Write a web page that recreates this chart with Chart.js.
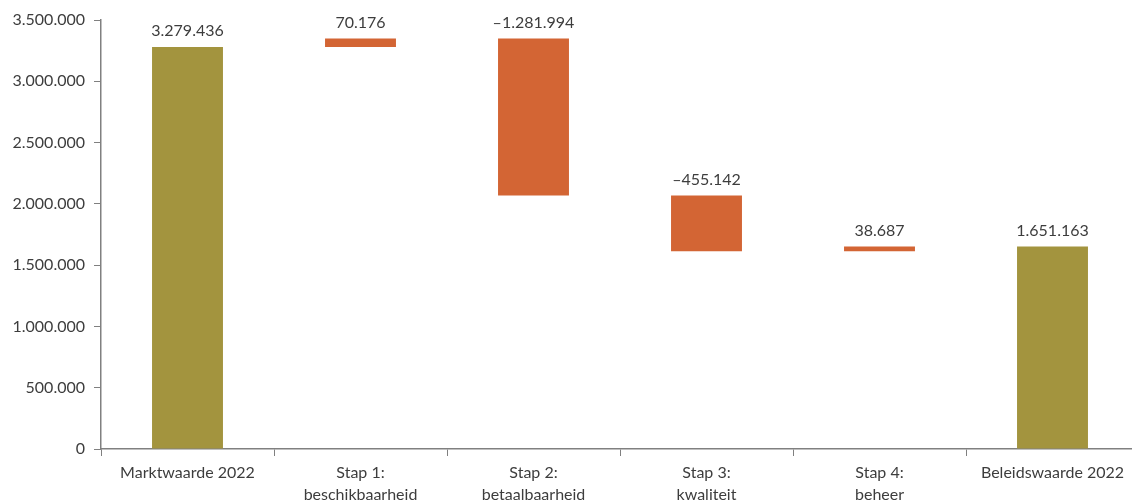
<!DOCTYPE html>
<html>
<head>
<meta charset="utf-8">
<script src="https://cdn.jsdelivr.net/npm/chart.js@4"></script>
<style>
html, body { margin: 0; padding: 0; overflow: hidden; background: #fff; }
#wrap { width: 1139px; height: 501px; position: relative; }
</style>
</head>
<body>
<div id="wrap"><canvas id="myChart"></canvas></div>
<script>
const categories = [
    ['Marktwaarde 2022'],
    ['Stap 1:', 'beschikbaarheid'],
    ['Stap 2:', 'betaalbaarheid'],
    ['Stap 3:', 'kwaliteit'],
    ['Stap 4:', 'beheer'],
    ['Beleidswaarde 2022']
];
const changes = [3279436, 70176, -1281994, -455142, 38687, 1651163];
const isTotal = [true, false, false, false, false, true];
const yMin = 0, yMax = 3500000, yStep = 500000;

const totalColor = '#a3943e';
const stepColor = '#d36534';
const textColor = '#3d3d3d';
const axisColor = '#808080';
const font = { family: 'Lato', size: 16, lineHeight: 1.375 };

function fmt(n) {
    const s = Math.abs(n).toString().replace(/\B(?=(\d{3})+(?!\d))/g, '.');
    return (n < 0 ? '\u2013' : '') + s;
}

// floating bars for the waterfall
let running = 0;
const ranges = changes.map((v, i) => {
    if (isTotal[i]) { running = v; return [0, v]; }
    const r = [running, running + v];
    running += v;
    return r;
});

const valueLabels = {
    id: 'valueLabels',
    afterDatasetsDraw(chart) {
        const ctx = chart.ctx;
        const meta = chart.getDatasetMeta(0);
        ctx.save();
        ctx.font = '16px Lato';
        ctx.fillStyle = textColor;
        ctx.textAlign = 'center';
        ctx.textBaseline = 'bottom';
        meta.data.forEach((bar, i) => {
            const top = Math.min(bar.y, bar.base);
            ctx.fillText(fmt(changes[i]), bar.x, top - 8);
        });
        ctx.restore();
    }
};

const config = {
    type: 'bar',
    data: {
        labels: categories,
        datasets: [{
            data: ranges,
            backgroundColor: isTotal.map(t => t ? totalColor : stepColor),
            borderWidth: 0,
            categoryPercentage: 1,
            barPercentage: 0.41
        }]
    },
    options: {
        responsive: true,
        maintainAspectRatio: false,
        animation: false,
        layout: { padding: { top: 19, left: 0, right: 0, bottom: 0 } },
        plugins: {
            legend: { display: false },
            tooltip: { enabled: false }
        },
        scales: {
            x: {
                grid: { offset: true, drawOnChartArea: false, tickLength: 7, color: axisColor, lineWidth: 1 },
                border: { color: axisColor, width: 1.5 },
                ticks: { font: font, color: textColor, padding: 6, maxRotation: 0, autoSkip: false },
                afterFit: s => { s.height = 52; }
            },
            y: {
                min: yMin,
                max: yMax,
                grid: { drawOnChartArea: false, tickLength: 7, color: axisColor, lineWidth: 1 },
                border: { color: axisColor, width: 1.5 },
                ticks: { stepSize: yStep, callback: v => fmt(v), font: font, color: textColor, padding: 9 },
                afterFit: s => { s.width = 101; }
            }
        }
    },
    plugins: [valueLabels]
};

window.addEventListener('load', () => {
    const ctx = document.getElementById('myChart').getContext('2d');
    new Chart(ctx, config);
});
</script>
</body>
</html>
